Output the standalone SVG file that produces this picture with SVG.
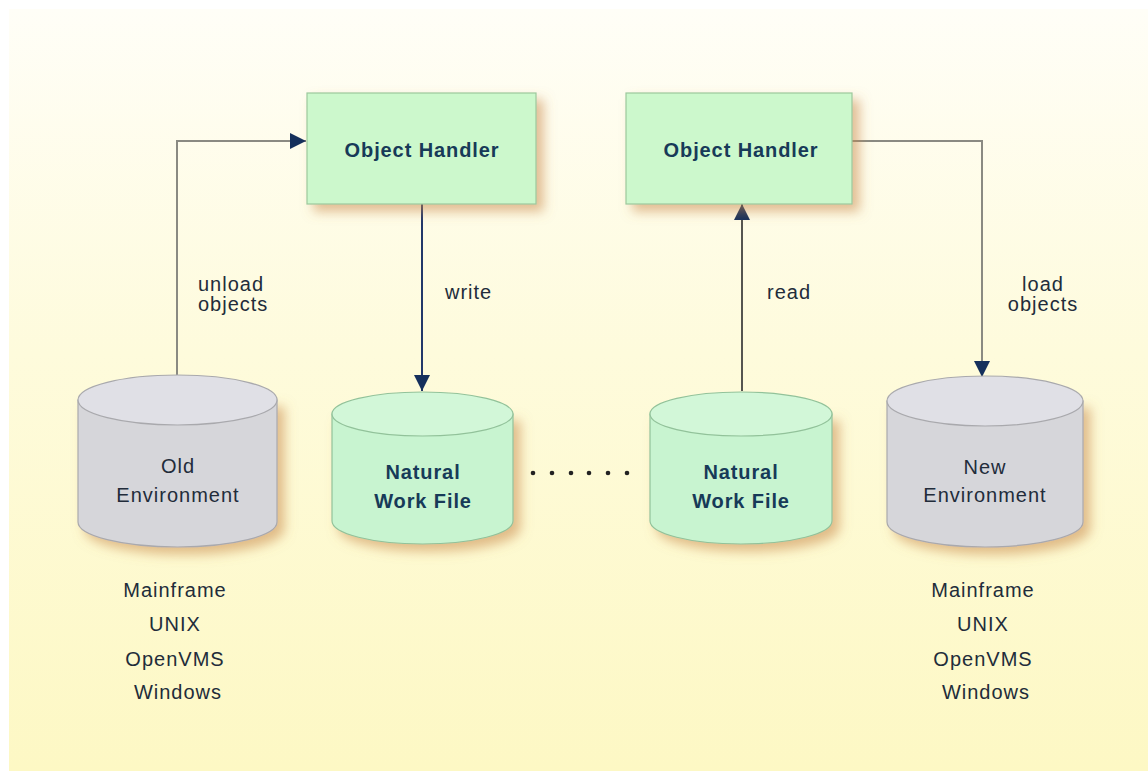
<svg xmlns="http://www.w3.org/2000/svg" width="1148" height="772" viewBox="0 0 1148 772">
<defs>
<linearGradient id="bg" x1="0" y1="0" x2="0" y2="1">
<stop offset="0" stop-color="#fffef7"/>
<stop offset="0.45" stop-color="#fefbdc"/>
<stop offset="1" stop-color="#fdf8c4"/>
</linearGradient>
<filter id="sh" x="-20%" y="-20%" width="150%" height="150%">
<feGaussianBlur in="SourceAlpha" stdDeviation="6"/>
<feOffset dx="7" dy="7" result="b"/>
<feFlood flood-color="#c8884a" flood-opacity="0.55"/>
<feComposite in2="b" operator="in" result="s"/>
<feMerge><feMergeNode in="s"/><feMergeNode in="SourceGraphic"/></feMerge>
</filter>
<marker id="ah" viewBox="0 0 16 16" refX="16" refY="8" markerWidth="16" markerHeight="16" markerUnits="userSpaceOnUse" orient="auto">
<path d="M0,0 L16,8 L0,16 Z" fill="#15305c"/>
</marker>
<style>
.box{fill:#ccf8cc;stroke:#9cc89c;stroke-width:1.2}
.cg{fill:#d6d6da;stroke:#a9a9ad;stroke-width:1.2}
.cgt{fill:#e0e0e6;stroke:#a9a9ad;stroke-width:1.2}
.cn{fill:#c8f4d0;stroke:#92c29a;stroke-width:1.2}
.cnt{fill:#d2f7d8;stroke:#92c29a;stroke-width:1.2}
.bt{font-family:"Liberation Sans",Arial,sans-serif;font-weight:bold;font-size:20px;fill:#173a58;letter-spacing:0.9px}
.t{font-family:"Liberation Sans",Arial,sans-serif;font-size:20px;fill:#222c3a;letter-spacing:1px}
.c{text-anchor:middle}
.ln{fill:none;stroke:#8a8a82;stroke-width:2}
</style>
</defs>
<rect x="0" y="0" width="1148" height="772" fill="#ffffff"/>
<rect x="9" y="9" width="1139" height="762" fill="url(#bg)"/>

<g id="connectors">
<path class="ln" d="M177,376 V141 H306" marker-end="url(#ah)"/>
<path d="M422,204 V391" fill="none" stroke="#22386a" stroke-width="2" marker-end="url(#ah)"/>
<path d="M742,391 V204" fill="none" stroke="#555550" stroke-width="2" marker-end="url(#ah)"/>
<path class="ln" d="M852,141 H982 V377" marker-end="url(#ah)"/>
<g fill="#222">
<circle cx="533" cy="473" r="2.3"/>
<circle cx="552" cy="473" r="2.3"/>
<circle cx="571" cy="473" r="2.3"/>
<circle cx="589" cy="473" r="2.3"/>
<circle cx="608" cy="473" r="2.3"/>
<circle cx="627" cy="473" r="2.3"/>
</g>
<text class="t" x="198" y="291">unload</text>
<text class="t" x="198" y="311">objects</text>
<text class="t" x="445" y="299">write</text>
<text class="t" x="767" y="299">read</text>
<text class="t c" x="1043" y="291">load</text>
<text class="t c" x="1043" y="311">objects</text>
</g>

<g id="oh1">
<rect class="box" x="307" y="93" width="229" height="111" filter="url(#sh)"/>
<text class="bt c" x="422" y="157">Object Handler</text>
</g>
<g id="oh2">
<rect class="box" x="626" y="93" width="226" height="111" filter="url(#sh)"/>
<text class="bt c" x="741" y="157">Object Handler</text>
</g>

<g id="oldenv">
<path class="cg" d="M78,400 V522 A99.5,25 0 0 0 277,522 V400 Z" filter="url(#sh)"/>
<ellipse class="cgt" cx="177.5" cy="400" rx="99.5" ry="25"/>
<text class="t c" x="178" y="473">Old</text>
<text class="t c" x="178" y="502">Environment</text>
</g>

<g id="nwf1">
<path class="cn" d="M332,414 V521 A90.5,23 0 0 0 513,521 V414 Z" filter="url(#sh)"/>
<ellipse class="cnt" cx="422.5" cy="414" rx="90.5" ry="22"/>
<text class="bt c" x="423" y="479">Natural</text>
<text class="bt c" x="423" y="508">Work File</text>
</g>

<g id="nwf2">
<path class="cn" d="M650,414 V521 A91,23 0 0 0 832,521 V414 Z" filter="url(#sh)"/>
<ellipse class="cnt" cx="741" cy="414" rx="91" ry="22"/>
<text class="bt c" x="741" y="479">Natural</text>
<text class="bt c" x="741" y="508">Work File</text>
</g>

<g id="newenv">
<path class="cg" d="M887,401 V522 A98,25 0 0 0 1083,522 V401 Z" filter="url(#sh)"/>
<ellipse class="cgt" cx="985" cy="401" rx="98" ry="25"/>
<text class="t c" x="985" y="474">New</text>
<text class="t c" x="985" y="502">Environment</text>
</g>

<g id="oldplatforms">
<text class="t c" x="175" y="597">Mainframe</text>
<text class="t c" x="175" y="631">UNIX</text>
<text class="t c" x="175" y="666">OpenVMS</text>
<text class="t c" x="178" y="699">Windows</text>
</g>
<g id="newplatforms">
<text class="t c" x="983" y="597">Mainframe</text>
<text class="t c" x="983" y="631">UNIX</text>
<text class="t c" x="983" y="666">OpenVMS</text>
<text class="t c" x="986" y="699">Windows</text>
</g>
</svg>
